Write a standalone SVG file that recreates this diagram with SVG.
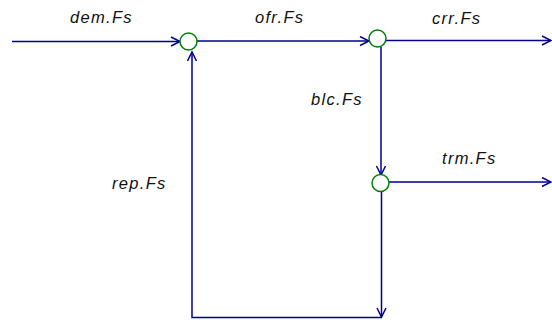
<svg xmlns="http://www.w3.org/2000/svg" width="552" height="320" viewBox="0 0 552 320">
<style>
.c{fill:none;stroke:#000090;stroke-width:1.5}
.n{fill:#fff;stroke:#008000;stroke-width:1.5}
.t{font-family:"Liberation Sans",Arial,sans-serif;font-style:italic;font-size:16.5px;letter-spacing:1.3px;fill:#111}
</style>
<defs>
<marker id="a" markerUnits="userSpaceOnUse" markerWidth="12" markerHeight="12" refX="10" refY="5.5" orient="auto">
<path d="M1,1 L10,5.5 L1,10" fill="none" stroke="#000090" stroke-width="1.5"/>
</marker>
</defs>
<rect width="552" height="320" fill="#fff"/>
<g id="connectors">
<path class="c" d="M12,41.5 H180" marker-end="url(#a)"/>
<path class="c" d="M197,41 H369" marker-end="url(#a)"/>
<path class="c" d="M386,40.5 H551" marker-end="url(#a)"/>
<path class="c" d="M381,47 V175" marker-end="url(#a)"/>
<path class="c" d="M389,182 H551" marker-end="url(#a)"/>
<path class="c" d="M381.5,191 V317" marker-end="url(#a)"/>
<path class="c" d="M381.5,317.5 H192 V52" marker-end="url(#a)"/>
</g>
<g id="labels">
<text class="t" x="70" y="23">dem.Fs</text>
<text class="t" x="255" y="23">ofr.Fs</text>
<text class="t" x="432" y="24">crr.Fs</text>
<text class="t" x="311" y="105">blc.Fs</text>
<text class="t" x="442" y="164">trm.Fs</text>
<text class="t" x="112" y="189">rep.Fs</text>
</g>
<g id="node1"><circle class="n" cx="188.5" cy="41.5" r="8.5"/></g>
<g id="node2"><circle class="n" cx="377.5" cy="38.5" r="8.5"/></g>
<g id="node3"><circle class="n" cx="380.5" cy="183" r="8.5"/></g>
</svg>
